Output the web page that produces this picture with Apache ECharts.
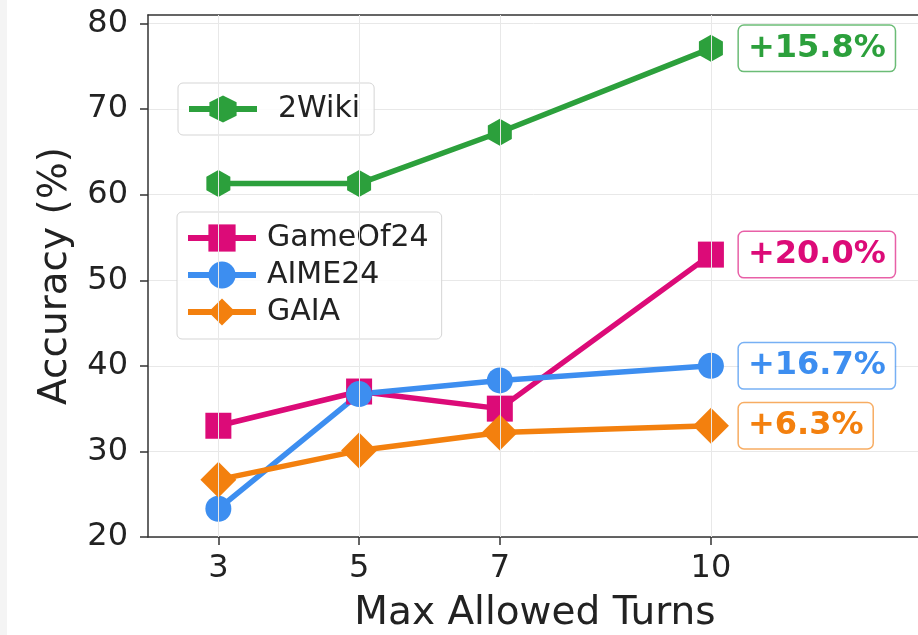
<!DOCTYPE html>
<html>
<head>
<meta charset="utf-8">
<script src="https://cdn.jsdelivr.net/npm/echarts@6/dist/echarts.min.js"></script>
<style>
html,body{margin:0;padding:0;background:#fff;overflow:hidden;}
#chart{width:918px;height:635px;}
</style>
</head>
<body>
<div id="chart"></div>
<script>
const turns = [3, 5, 7, 10];
const xTicks = [3, 5, 7, 10];
const yTicks = [20, 30, 40, 50, 60, 70, 80];
const wiki = [61.3, 61.3, 67.3, 77.1];
const game24 = [33.0, 37.0, 35.0, 53.0];
const aime24 = [23.3, 36.7, 38.3, 40.0];
const gaia = [26.7, 30.1, 32.2, 33.0];
const gains = ['+15.8%', '+20.0%', '+16.7%', '+6.3%'];

const FONT = 'DejaVu Sans';
const hexagon = 'path://M0,-1 L0.866,-0.5 L0.866,0.5 L0,1 L-0.866,0.5 L-0.866,-0.5 Z';

function mkSeries(name, vals, color, border, symbol, size, dist, gain) {
  return {
    name: name, type: 'line', xAxisIndex: 0, data: vals.map((v, i) => {
      const item = { value: [turns[i], v] };
      if (i === vals.length - 1) {
        item.label = {
          show: true, position: 'right', distance: dist,
          formatter: gain, color: color, fontFamily: FONT, fontWeight: 'bold', fontSize: 32,
          backgroundColor: '#fff', borderColor: border, borderWidth: 1.5, borderRadius: 5,
          padding: [6, 9, 5, 9], lineHeight: 34
        };
      }
      return item;
    }),
    symbol: symbol, symbolSize: size, showSymbol: true,
    lineStyle: { color: color, width: 5.5 }, itemStyle: { color: color },
    z: 3
  };
}

const legendCommon = {
  orient: 'vertical', itemWidth: 68, itemHeight: 34,
  backgroundColor: 'rgba(255,255,255,0.85)', borderColor: '#d5d5d5', borderWidth: 1, borderRadius: 5,
  lineStyle: { width: 6 }
};

const chart = echarts.init(document.getElementById('chart'), null, { renderer: 'canvas' });
chart.setOption({
  animation: false,
  backgroundColor: '#fff',
  textStyle: { fontFamily: FONT },
  graphic: [
    { type: 'rect', left: 0, top: 0, shape: { width: 7, height: 635 }, style: { fill: '#f4f4f4' }, silent: true }
  ],
  grid: { left: 148, top: 15, right: -4, bottom: 98, outerBoundsMode: 'none', containLabel: false, show: false },
  xAxis: [{
    type: 'value', min: 2, max: 13,
    name: 'Max Allowed Turns', nameLocation: 'middle', nameGap: 57,
    nameTextStyle: { fontSize: 39, color: '#222', fontFamily: FONT },
    axisLine: { lineStyle: { color: '#333', width: 1.5 } },
    axisTick: { show: true, length: 8, customValues: xTicks, lineStyle: { color: '#333', width: 1.5 } },
    axisLabel: { customValues: xTicks, fontSize: 32, color: '#222', margin: 16, fontFamily: FONT },
    splitLine: { show: false }
  }, {
    type: 'value', min: 2, max: 13, position: 'top',
    axisLine: { show: true, lineStyle: { color: '#333', width: 1.5 } },
    axisTick: { show: false }, axisLabel: { show: false }, splitLine: { show: false }
  }],
  yAxis: {
    type: 'value', min: 20, max: 81, interval: 10,
    name: 'Accuracy (%)', nameLocation: 'middle', nameGap: 73,
    nameTextStyle: { fontSize: 39, color: '#222', fontFamily: FONT },
    axisLine: { show: true, lineStyle: { color: '#333', width: 1.5 } },
    axisTick: { show: true, length: 8, customValues: yTicks, lineStyle: { color: '#333', width: 1.5 } },
    axisLabel: { customValues: yTicks, fontSize: 32, color: '#222', margin: 20, fontFamily: FONT },
    splitLine: { show: true, lineStyle: { color: '#e8e8e8', width: 1 } }
  },
  legend: [
    Object.assign({}, legendCommon, {
      data: ['2Wiki'], left: 178, top: 83,
      padding: [9, 14, 9, 8],
      textStyle: { fontSize: 30, color: '#222', fontFamily: FONT, padding: [0, 0, 0, 16], lineHeight: 34 }
    }),
    Object.assign({}, legendCommon, {
      data: ['GameOf24', 'AIME24', 'GAIA'], left: 177, top: 212,
      itemGap: 3, padding: [9, 13, 10, 8],
      textStyle: { fontSize: 30, color: '#222', fontFamily: FONT, padding: [0, 0, 0, 6], lineHeight: 34 }
    })
  ],
  series: [
    {
      type: 'line', data: [], silent: true, z: 1,
      markLine: {
        silent: true, symbol: ['none', 'none'], label: { show: false },
        lineStyle: { color: '#e8e8e8', width: 1, type: 'solid' },
        data: xTicks.map(t => ({ xAxis: t }))
      }
    },
    mkSeries('2Wiki', wiki, '#2ca03c', 'rgba(44,160,60,0.7)', hexagon, [24, 27], 16, gains[0]),
    mkSeries('GameOf24', game24, '#dc0b78', 'rgba(220,11,120,0.65)', 'rect', 26, 15, gains[1]),
    mkSeries('AIME24', aime24, '#3d8ef0', 'rgba(61,142,240,0.7)', 'circle', 26, 15, gains[2]),
    mkSeries('GAIA', gaia, '#f3800e', 'rgba(243,128,14,0.65)', 'diamond', 36, 10, gains[3])
  ]
});
</script>
</body>
</html>
